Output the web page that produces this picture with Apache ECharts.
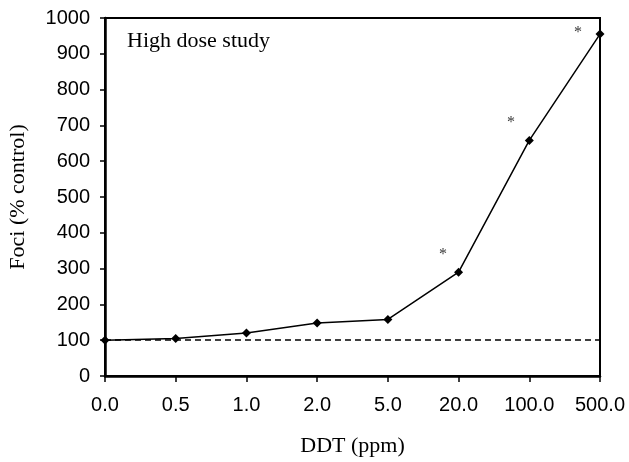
<!DOCTYPE html>
<html>
<head>
<meta charset="utf-8">
<script src="https://cdn.jsdelivr.net/npm/echarts@6/dist/echarts.min.js"></script>
<style>html,body{margin:0;padding:0;background:#fff;}#c{width:629px;height:462px;}</style>
</head>
<body>
<div id="c"></div>
<script>
const categories = ['0.0','0.5','1.0','2.0','5.0','20.0','100.0','500.0'];
const foci = [100, 105, 120, 148, 158, 290, 658, 955];
const controlLevel = 100;
const asterisks = [[4.78, 338], [5.74, 706], [6.69, 958]];
const yTicks = {min: 0, max: 1000, interval: 100};

const chart = echarts.init(document.getElementById('c'));
chart.setOption({
  animation: false,
  backgroundColor: '#fff',
  grid: {left: 105, right: 29, top: 18, bottom: 86, containLabel: false, outerBoundsMode: 'none', show: true, borderColor: '#000', borderWidth: 2, backgroundColor: 'transparent'},
  xAxis: [{
    type: 'category', data: categories, boundaryGap: false,
    name: 'DDT (ppm)', nameLocation: 'middle', nameGap: 59,
    nameTextStyle: {fontFamily: 'Liberation Serif', fontSize: 22, color: '#000'},
    axisLine: {lineStyle: {color: '#000', width: 2.5}},
    axisTick: {show: true, length: 6, alignWithLabel: true, lineStyle: {color: '#000', width: 1.5}},
    axisLabel: {fontFamily: 'Liberation Sans', fontSize: 20, color: '#000', margin: 19},
    splitLine: {show: false}
  }, {
    type: 'value', min: 0, max: 7, show: false
  }],
  yAxis: {
    type: 'value', min: yTicks.min, max: yTicks.max, interval: yTicks.interval,
    name: 'Foci (% control)', nameLocation: 'middle', nameGap: 76,
    nameTextStyle: {fontFamily: 'Liberation Serif', fontSize: 22, color: '#000'},
    axisLine: {show: true, lineStyle: {color: '#000', width: 2.5}},
    axisTick: {show: true, length: 5, lineStyle: {color: '#000', width: 1.5}},
    axisLabel: {fontFamily: 'Liberation Sans', fontSize: 20, color: '#000', margin: 15, formatter: v => String(v)},
    splitLine: {show: false}
  },
  graphic: [{
    type: 'text', left: 127, top: 30,
    style: {text: 'High dose study', font: '22px "Liberation Serif"', fill: '#000'}
  }],
  series: [{
    type: 'line', data: foci, xAxisIndex: 0,
    symbol: 'diamond', symbolSize: 9,
    lineStyle: {color: '#000', width: 1.5},
    itemStyle: {color: '#000'},
    z: 3,
    markLine: {
      silent: true, symbol: 'none',
      lineStyle: {color: '#000', type: [6, 4], width: 1.5},
      label: {show: false},
      data: [{yAxis: controlLevel}]
    }
  }, {
    type: 'scatter', xAxisIndex: 1, data: asterisks,
    symbolSize: 0,
    label: {show: true, formatter: '*', position: 'inside', fontFamily: 'Liberation Serif', fontSize: 16, color: '#000'}
  }]
});
</script>
</body>
</html>
